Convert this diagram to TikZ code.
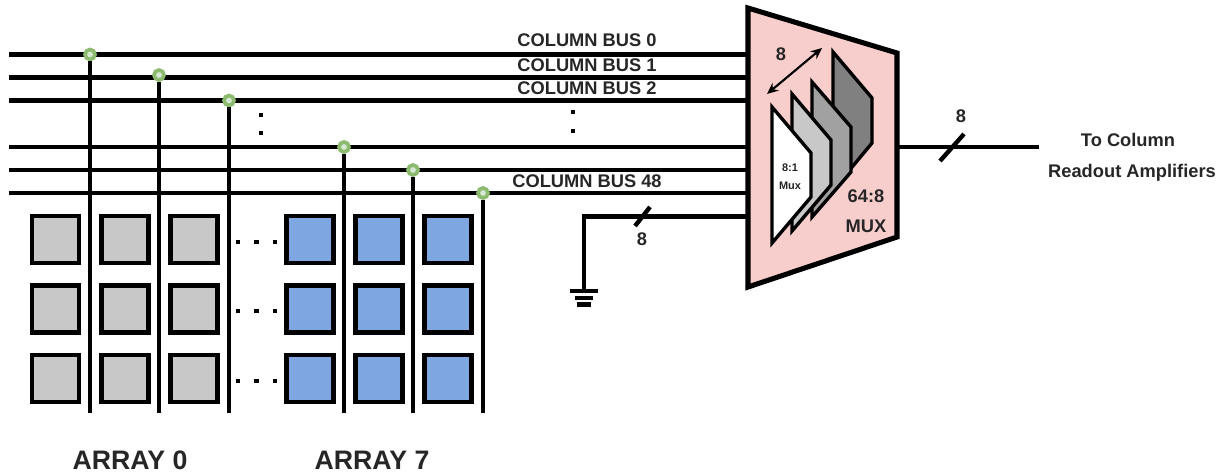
\documentclass[tikz,border=0pt]{standalone}
\usepackage{xcolor}
\usepackage{fontspec}
\setmainfont{Liberation Sans}
\usepackage{tikz}
\usetikzlibrary{arrows.meta}

\definecolor{muxpink}{HTML}{F8CECC}
\definecolor{cellgray}{HTML}{C8C8C8}
\definecolor{cellblue}{HTML}{7EA6E0}
\definecolor{tapgreen}{HTML}{8CBA6E}
\definecolor{tapfill}{HTML}{D5E8D4}

\begin{document}
\begin{tikzpicture}[
  x=0.025cm, y=-0.025cm,
  wire/.style={line width=3.1pt},
  cellg/.style={draw, line width=3.2pt, fill=cellgray, minimum size=1.175cm, inner sep=0pt},
  cellb/.style={draw, line width=3.2pt, fill=cellblue, minimum size=1.175cm, inner sep=0pt},
  tap/.style={circle, draw=tapgreen, fill=tapfill, line width=2.6pt, minimum size=0.25cm, inner sep=0pt},
  dotbox/.style={fill=black, minimum size=0.12cm, inner sep=0pt},
  gndbar/.style={fill=black, minimum height=0.11cm, inner sep=0pt},
  lbl/.style={font=\fontsize{13}{15}\selectfont\bfseries, inner sep=0pt, align=center, text=black!85},
  big/.style={font=\fontsize{19}{22}\selectfont\bfseries, inner sep=0pt, text=black!85},
  slice/.style={draw, line width=2.4pt, line join=miter}
]
\useasboundingbox (0,0) rectangle (1227,475);

% bus ends
\coordinate (b0l) at (9,54.5);
\coordinate (b1l) at (9,77.5);
\coordinate (b2l) at (9,100.5);
\coordinate (b3l) at (9,147);
\coordinate (b4l) at (9,170);
\coordinate (b5l) at (9,193);
\coordinate (b0r) at (748,54.5);
\coordinate (b1r) at (748,77.5);
\coordinate (b2r) at (748,100.5);
\coordinate (b3r) at (748,147);
\coordinate (b4r) at (748,170);
\coordinate (b5r) at (748,193);
\draw[wire] (b0l) -- (b0r);
\draw[wire] (b1l) -- (b1r);
\draw[wire] (b2l) -- (b2r);
\draw[wire] (b3l) -- (b3r);
\draw[wire] (b4l) -- (b4r);
\draw[wire] (b5l) -- (b5r);

\node[lbl] (lb0) at (587,40)  {COLUMN BUS 0};
\node[lbl] (lb1) at (587,65)  {COLUMN BUS 1};
\node[lbl] (lb2) at (587,88)  {COLUMN BUS 2};
\node[lbl] (lb48) at (587,181) {COLUMN BUS 48};

% memory cells
\node[cellg] (c00) at (55.5,239.5) {};
\node[cellg] (c01) at (125,239.5)  {};
\node[cellg] (c02) at (194,239.5)  {};
\node[cellb] (c03) at (310,239.5)  {};
\node[cellb] (c04) at (379,239.5)  {};
\node[cellb] (c05) at (448,239.5)  {};

\node[cellg] (c10) at (55.5,309) {};
\node[cellg] (c11) at (125,309)  {};
\node[cellg] (c12) at (194,309)  {};
\node[cellb] (c13) at (310,309)  {};
\node[cellb] (c14) at (379,309)  {};
\node[cellb] (c15) at (448,309)  {};

\node[cellg] (c20) at (55.5,378.5) {};
\node[cellg] (c21) at (125,378.5)  {};
\node[cellg] (c22) at (194,378.5)  {};
\node[cellb] (c23) at (310,378.5)  {};
\node[cellb] (c24) at (379,378.5)  {};
\node[cellb] (c25) at (448,378.5)  {};

% taps and column lines
\node[tap] (t0) at (90,54.5) {};
\node[tap] (t1) at (159,75)  {};
\node[tap] (t2) at (229,100.5) {};
\node[tap] (t3) at (344,147) {};
\node[tap] (t4) at (413,170) {};
\node[tap] (t5) at (483,193) {};
\coordinate (e0) at (90,413);
\coordinate (e1) at (159,413);
\coordinate (e2) at (229,413);
\coordinate (e3) at (344,413);
\coordinate (e4) at (413,413);
\coordinate (e5) at (483,413);
\draw[wire] (t0.south) -- (e0);
\draw[wire] (t1.south) -- (e1);
\draw[wire] (t2.south) -- (e2);
\draw[wire] (t3.south) -- (e3);
\draw[wire] (t4.south) -- (e4);
\draw[wire] (t5.south) -- (e5);

% dots
\node[dotbox] (d1) at (261,115) {};
\node[dotbox] (d2) at (261,133) {};
\node[dotbox] (d3) at (573,112) {};
\node[dotbox] (d4) at (573,131) {};
\node[dotbox] (d5) at (238,242) {};
\node[dotbox] (d6) at (256.5,242) {};
\node[dotbox] (d7) at (275,242) {};
\node[dotbox] (d8) at (238,311) {};
\node[dotbox] (d9) at (256.5,311) {};
\node[dotbox] (d10) at (275,311) {};
\node[dotbox] (d11) at (238,381) {};
\node[dotbox] (d12) at (256.5,381) {};
\node[dotbox] (d13) at (275,381) {};

% ground
\coordinate (gr) at (748,216.5);
\node[gndbar, minimum width=0.68cm] (g1) at (584,291) {};
\node[gndbar, minimum width=0.43cm] (g2) at (584,298) {};
\node[gndbar, minimum width=0.36cm] (g3) at (584,304.5) {};
\draw[wire] (gr) -- (gr -| g1.north) -- (g1.north);
\coordinate (s1a) at (635,226);
\coordinate (s1b) at (650,207);
\draw[wire] (s1a) -- (s1b);
\node[lbl] (n1) at (642,239) {8};

% mux
\coordinate (ma) at (748,8);
\coordinate (mb) at (897,53);
\coordinate (mc) at (897,237);
\coordinate (md) at (748,287);
\draw[line width=3.6pt, fill=muxpink, line join=miter] (ma) -- (mb) -- (mc) -- (md) -- cycle;

\draw[slice, fill=black!50] (833,52) -- (872,98) -- (872,143) -- (833,190) -- cycle;
\draw[slice, fill=black!37] (812,82) -- (851,127) -- (851,172) -- (812,217) -- cycle;
\draw[slice, fill=cellgray] (792,94) -- (831,140) -- (831,185) -- (792,231) -- cycle;
\draw[slice, fill=white]    (772,107) -- (811,153) -- (811,197) -- (772,243) -- cycle;

\coordinate (aa) at (767,94);
\coordinate (ab) at (822,48);
\draw[{Stealth[length=8pt,width=7pt]}-{Stealth[length=8pt,width=7pt]}, line width=1.5pt] (aa) -- (ab);
\node[lbl] (n2) at (781,54) {8};
\node[font=\fontsize{7.8}{12}\selectfont\bfseries, inner sep=0pt, align=center, text=black!85] (sm) at (790,177) {8:1\\[1pt]Mux};
\node[lbl] (ms) at (866,196) {64:8};
\node[lbl] (mx) at (866,226) {MUX};

% output
\node[lbl] (ta) at (1128,140) {To Column};
\node[lbl] (tb) at (1132,173) {Readout Amplifiers};
\coordinate (oa) at (897,147);
\coordinate (ob) at (1039,147);
\draw[wire] (oa) -- (ob);
\coordinate (s2a) at (940,161);
\coordinate (s2b) at (964,134);
\draw[wire] (s2a) -- (s2b);
\node[lbl] (n3) at (961,116) {8};

\node[big] (a0) at (130,460) {ARRAY 0};
\node[big] (a7) at (372,460) {ARRAY 7};

\end{tikzpicture}
\end{document}
